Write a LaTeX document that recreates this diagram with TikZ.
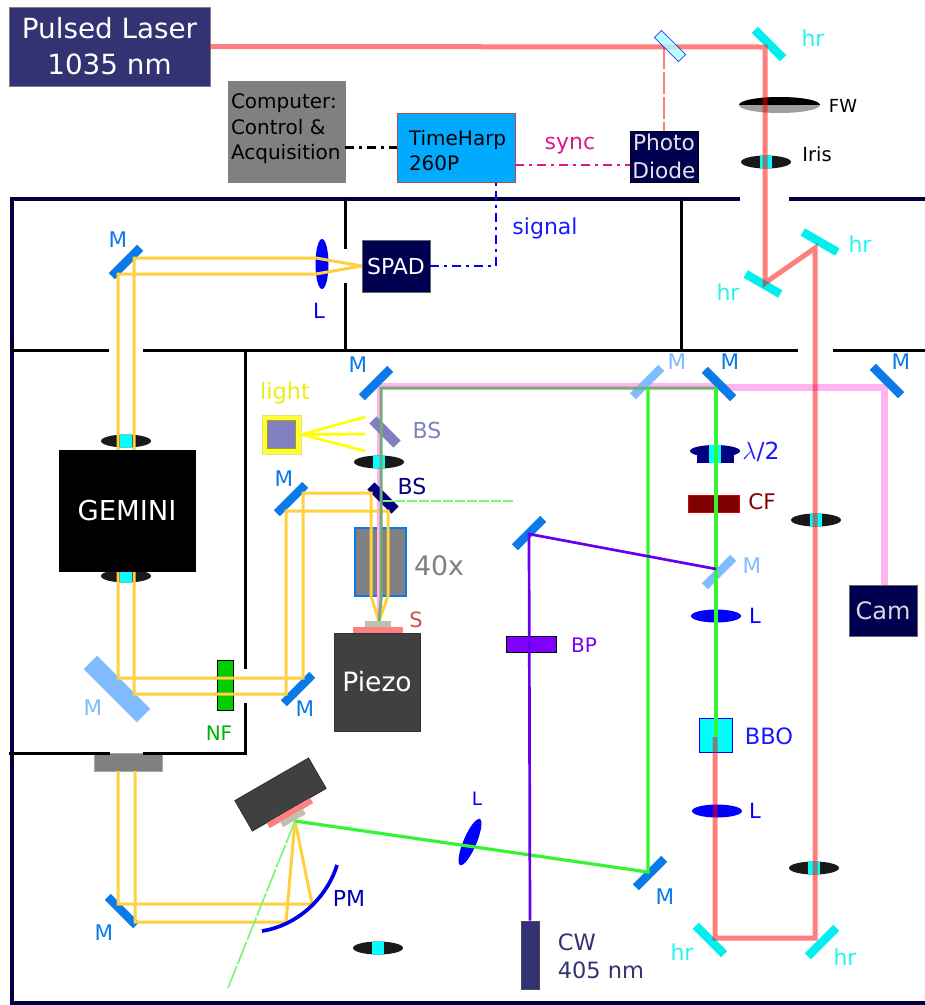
\documentclass[tikz,border=0pt]{standalone}
\usepackage{fontspec}
\setmainfont{DejaVu Sans}
\usetikzlibrary{shapes.geometric}
\definecolor{wallnavy}{HTML}{000040}
\definecolor{laserblue}{HTML}{333373}
\definecolor{boxnavy}{HTML}{000050}
\definecolor{harpblue}{HTML}{00AAFF}
\definecolor{mblue}{HTML}{0A7AE8}
\definecolor{mlight}{HTML}{80BBFF}
\definecolor{hrcyan}{HTML}{00F0F0}
\definecolor{cyn}{HTML}{00FFFF}
\definecolor{yray}{HTML}{FFD040}
\definecolor{yelo}{HTML}{FFFF00}
\definecolor{gray4}{HTML}{404040}
\definecolor{pinkbeam}{HTML}{FFB3F0}
\definecolor{greenbeam}{HTML}{33F533}
\definecolor{gstack}{HTML}{77AA77}
\definecolor{violetbeam}{HTML}{6600EE}
\definecolor{sampgray}{HTML}{C0C0B0}
\definecolor{bslight}{HTML}{8080C0}
\definecolor{syncpink}{HTML}{E0148C}
\definecolor{bpviolet}{HTML}{8000FF}
\begin{document}
\begin{tikzpicture}[x=1pt,y=-1pt,
fs/.style 2 args={font=\fontsize{#1}{#2}\selectfont},
boxn/.style={draw=gray,line width=.7pt,inner sep=0pt,align=center,minimum width=#1},
mir/.style={fill=mblue,inner sep=0pt,minimum width=40pt,minimum height=8.5pt},
mirl/.style={mir,fill=mlight},
hrm/.style={mir,fill=hrcyan},
bsm/.style={inner sep=0pt,minimum width=34pt,minimum height=10pt},
iris/.style={ellipse,fill=black!90,inner sep=0pt,minimum width=50pt,minimum height=13pt,path picture={\fill[cyn] ([xshift=-6pt,yshift=-8pt]path picture bounding box.center) rectangle ([xshift=6pt,yshift=8pt]path picture bounding box.center);}},
lens/.style={ellipse,fill=blue,inner sep=0pt,minimum width=50pt,minimum height=13pt},
lab/.style={inner sep=0pt,fs={21}{24}},
mlab/.style={lab,fs={21.5}{24},text=mblue},
llab/.style={lab,fs={21.5}{24},text=mlight},
hlab/.style={lab,fs={22}{26},text=hrcyan!85!white},
redb/.style={draw=red,opacity=.5,line width=5pt,miter limit=20},
yel/.style={draw=yray,line width=3pt},
grn/.style={draw=greenbeam,line width=3.2pt},
gdash/.style={draw=greenbeam!65!white,line width=1.7pt},
sig/.style={line width=2.2pt,dash pattern=on 9pt off 5pt on 3pt off 5pt}]
\useasboundingbox (0,0) rectangle (925,1005);
\node[fill=gray,draw=gray!70,line width=1pt,inner sep=0pt,minimum width=68pt,minimum height=18pt] (win) at (128.5,762.5) {};
% enclosure
\draw[wallnavy,line width=4.6pt] (10,199)--(740,199) (789,199)--(925,199) (12,199)--(12,1003)--(925,1003);
\draw[line width=3pt] (345,199)--(345,249) (345,283)--(345,350) (681,199)--(681,350);
\draw[line width=3pt] (10,350)--(109,350) (143,350)--(798,350) (833,350)--(925,350);
\draw[line width=3pt] (245,350)--(245,669) (245,703)--(245,753)--(143,753) (110,753)--(9,753);
% turning points of the beams
\coordinate (r1) at (765,47);\coordinate (r2) at (765,283);\coordinate (r3) at (815,248);\coordinate (r4) at (815,938);\coordinate (r5) at (715,938);\coordinate (r6) at (715,737);\coordinate (r7) at (715,572);
\coordinate (pd1) at (664,47);\coordinate (focus) at (379,621);\coordinate (gem) at (295,821);
\coordinate (ya1) at (316,258);\coordinate (ya2) at (134,258);\coordinate (ya3) at (134,694);\coordinate (ya4) at (286,694);\coordinate (ya5) at (286,511);\coordinate (ya6) at (388,511);\coordinate (ya7) at (388,596);
\coordinate (yb1) at (316,274);\coordinate (yb2) at (118,274);\coordinate (yb3) at (118,678);\coordinate (yb4) at (303,678);\coordinate (yb5) at (303,493);\coordinate (yb6) at (371,493);\coordinate (yb7) at (371,596);
\coordinate (yc1) at (118,771);\coordinate (yc2) at (118,904);\coordinate (yc3) at (312,904);
\coordinate (yd1) at (135,771);\coordinate (yd2) at (135,922);\coordinate (yd3) at (286,922);
\coordinate (p1) at (379,385);\coordinate (p2) at (719,385);\coordinate (p3) at (719,387);\coordinate (p4) at (884,387);
\coordinate (g1) at (381,388);\coordinate (g2) at (381,600);\coordinate (g3) at (716,388);\coordinate (g4) at (648,388);\coordinate (g5) at (648,872);\coordinate (g6) at (716,737);
\coordinate (gd1) at (383,501);\coordinate (gd2) at (513,501);\coordinate (gd3) at (228,988);
\coordinate (v1) at (529,534);\coordinate (v2) at (716,569);
\coordinate (pm1) at (262,931);\coordinate (pm2) at (337,865);
\coordinate (rayA) at (365,417);\coordinate (rayB) at (365,434);\coordinate (rayC) at (365,451);
\coordinate (sg1) at (496,182);\coordinate (sy1) at (515,165);\coordinate (pd2) at (664,131);
% objective, then the pink path to the camera
\node[fill=gray,draw=mblue,line width=2pt,inner sep=0pt,minimum width=51pt,minimum height=68pt] (obj) at (380.5,562) {};
\node[boxn=68pt,minimum height=51pt,draw=black!60,fill=boxnavy,text=white!85!black,fs={24}{28}] (cam) at (883,610.5) {Cam};
\draw[pinkbeam,line width=4pt] (p1)--(p2);
\draw[pinkbeam,line width=4pt] (p1)--(focus);
\draw[pinkbeam,line width=7pt] (p3)--(p4)--(cam.north -| p4);
% mirrors
\node[hrm,rotate=-45] (hr1) at (769,44) {};
\node[hrm,rotate=-30] (hr2) at (763,284) {};
\node[hrm,rotate=-30] (hr3) at (820,242) {};
\node[hrm,rotate=-45] (hr4) at (710,940) {};
\node[hrm,rotate=45] (hr5) at (822,942) {};
\node[mir,rotate=45] (m1) at (126,262) {};
\node[mir,rotate=45] (m2) at (376,383) {};
\node[mir,rotate=45] (m3) at (291,499) {};
\node[mirl,rotate=45] (m4) at (647,382) {};
\node[mir,rotate=-45] (m5) at (719,384) {};
\node[mir,rotate=-45] (m6) at (887,381) {};
\node[mirl,rotate=45] (m7) at (719,572) {};
\node[mir,rotate=45] (m8) at (529,533) {};
\node[mirl,rotate=-45,minimum width=75pt,minimum height=19pt] (m9) at (117,689) {};
\node[mir,rotate=45] (m10) at (298,689) {};
\node[mir,rotate=-45] (m11) at (122,911) {};
\node[mir,rotate=45] (m12) at (650,873) {};
\node[bsm,rotate=-45,fill=bslight] (bs1) at (385,432) {};
\node[bsm,rotate=-45,fill=blue!50!black] (bs2) at (383,498) {};
% irises, lenses and filters
\node[ellipse,fill=gray!75,inner sep=0pt,minimum width=81pt,minimum height=16pt,path picture={\fill[black] (path picture bounding box.north west) rectangle (path picture bounding box.east);}] (fw) at (779.5,105) {};
\node[iris] (ir1) at (766,162) {};
\node[iris] (ir2) at (816,520) {};
\node[iris] (ir3) at (814,868) {};
\node[iris] (ir4) at (378,948) {};
\node[iris] (ir5) at (379,462) {};
\node[iris] (ir6) at (126,441) {};
\node[iris] (ir7) at (126,576) {};
\node[lens,rotate=90] (l1) at (322,264) {};
\node[lens] (l2) at (716,616) {};
\node[lens] (l3) at (717,811) {};
\node[lens,rotate=67] (l4) at (470,842) {};
\fill[blue!50!black] (715,451) ellipse [x radius=25pt,y radius=6pt];
\fill[blue!50!black] (696.5,451) rectangle (733.5,463);
\node[fill=cyn,inner sep=0pt,minimum width=12pt,minimum height=18pt] (wp) at (715,454) {};
\node[fill=red!50!black,draw=red!85!black,line width=.8pt,inner sep=0pt,minimum width=51pt,minimum height=17pt] (cf) at (714,504) {};
\node[fill=cyn,draw=blue,line width=1pt,inner sep=0pt,minimum width=33pt,minimum height=34pt] (bbo) at (716,735.5) {};
\node[fill=green!80!black,draw=black,line width=1pt,inner sep=0pt,minimum width=16pt,minimum height=50pt] (nf) at (225.5,685.5) {};
\node[fill=bpviolet,draw=black,line width=1pt,inner sep=0pt,minimum width=50pt,minimum height=16pt] (bp) at (531.5,644.5) {};
% boxes that beams start from
\node[boxn=201pt,minimum height=79pt,fill=laserblue,text=white,fs={27.8}{36}] (laser) at (109.5,46.5) {Pulsed Laser\\1035 nm};
\node[boxn=68pt,minimum height=52pt,draw=black!60,fill=boxnavy,text=white,fs={22}{26}] (spad) at (396,266) {SPAD};
\node[boxn=68pt,minimum height=51pt,draw=black,fill=boxnavy,text=white!90!black,fs={21.7}{28}] (pd) at (664,156.5) {Photo\\Diode};
\node[boxn=117pt,minimum height=101pt,fill=gray,text=black,fs={20}{25.5},align=left,text width=111pt] (comp) at (286.5,131.5) {Computer:\\Control \&\\Acquisition\par\vspace{5pt}};
\node[boxn=118pt,minimum height=69pt,draw=red!40!gray,fill=harpblue,text=black,fs={20}{25},align=left,text width=94pt] (harp) at (456,147.5) {\rule{0pt}{22pt}TimeHarp\\260P};
\node[fill=gray4,draw=black!80,line width=1pt,inner sep=0pt,minimum width=85pt,minimum height=35pt,rotate=30] (mount) at (280.5,794.5) {};
\node[fill=red!50,inner sep=0pt,minimum width=50pt,minimum height=6pt,rotate=30] (holder) at (290,813) {};
\node[fill=sampgray,inner sep=0pt,minimum width=26pt,minimum height=6pt,rotate=30] (samp) at (293,818) {};
\node[fill=yelo!80,draw=yelo!60!gray!60,inner sep=0pt,minimum size=39pt] (lamp) at (282,434.5) {};
\node[fill=bslight,draw=yelo!60!black!90,line width=.7pt,inner sep=0pt,minimum size=28pt] (bulb) at (281.5,434) {};
% beams
\draw[pinkbeam!60!red!70,line width=2pt] (r6)--(r7);
\draw[redb] (laser.east) -- (r1) -- (r2) -- (r3) -- (r4) -- (r5) -- (r6);
\draw[redb,line width=2.5pt,dash pattern=on 22pt off 3pt] (pd1)--(pd2);
\node[bsm,rotate=-45,fill=cyn!35,draw=blue,line width=.7pt,opacity=.8] (bs0) at (670,46) {};
\draw[yel,line join=miter] (spad.west)--(ya1)--(ya2)--(ya3)--(ya4)--(ya5)--(ya6)--(ya7)--(focus);
\draw[yel,line join=miter] (spad.west)--(yb1)--(yb2)--(yb3)--(yb4)--(yb5)--(yb6)--(yb7)--(focus);
\draw[yel] (yc1)--(yc2)--(yc3)--(gem);
\draw[yel] (yd1)--(yd2)--(yd3)--(gem);
\draw[gstack,line width=3pt] (g3)--(g1)--(g2)--(focus);
\draw[grn] (g3)--(g6);
\draw[grn] (g4)--(g5)--(gem);
\draw[gdash,dash pattern=on 10pt off 2pt] (gd1)--(gd2);
\draw[gdash,dash pattern=on 24pt off 2pt] (gem)--(gd3);
\node[boxn=18pt,minimum height=68pt,draw=black!70,fill=laserblue] (cw) at (530,955) {};
\draw[violetbeam,line width=2.7pt] (cw.north)--(v1)--(v2);
\draw[yelo,line width=2.7pt] (rayA)--(lamp.east)--(rayC) (lamp.east)--(rayB);
\draw[blue!90!black,line width=3.7pt] (pm1) .. controls (300,925) and (328,895) .. (pm2);
% signal lines
\draw[sig] (harp.west -| comp.east)--(harp.west);
\draw[sig,syncpink] (sy1)--(sy1 -| pd.west);
\draw[sig,blue] (spad.east) -| (sg1);
% boxes in front
\node[boxn=136pt,minimum height=121pt,draw=black,fill=black,text=white,fs={27.4}{32}] (gemini) at (127,510.5) {GEMINI};
\node[boxn=86pt,minimum height=98pt,draw=black!80,line width=1pt,fill=gray4,text=white,fs={26.6}{32}] (piezo) at (377,682) {Piezo};
\node[fill=red!50,inner sep=0pt,minimum width=50pt,minimum height=6pt] (stage) at (378,630) {};
\node[fill=sampgray,inner sep=0pt,minimum width=26pt,minimum height=6pt] (chip) at (378,624) {};
% labels
\node[lab,fs={22}{26},text=syncpink] (lsync) at (570,146) {sync};
\node[lab,fs={22}{26},text=blue!90!white] (lsig) at (545,228) {signal};
\node[lab,fs={18}{20},text=black] (lfw) at (843,106) {FW};
\node[lab,fs={19.5}{22},text=black] (lir) at (817,154) {Iris};
\node[hlab] (lh1) at (813,38) {hr};
\node[hlab] (lh2) at (860,244) {hr};
\node[hlab] (lh3) at (728,292) {hr};
\node[hlab] (lh4) at (682,952) {hr};
\node[hlab] (lh5) at (845,957) {hr};
\node[mlab] (lm1) at (118,240) {M};
\node[mlab] (lm2) at (358,365) {M};
\node[mlab] (lm3) at (284,479) {M};
\node[llab] (lm4) at (677,362) {M};
\node[mlab] (lm5) at (730,362) {M};
\node[mlab] (lm6) at (901,362) {M};
\node[llab] (lm7) at (752,566) {M};
\node[llab] (lm9) at (93,708) {M};
\node[mlab] (lm10) at (305,709) {M};
\node[mlab] (lm11) at (104,933) {M};
\node[mlab] (lm12) at (665,897) {M};
\node[lab,text=blue] (ll1) at (319,311) {L};
\node[lab,text=blue] (ll2) at (755,616) {L};
\node[lab,text=blue] (ll3) at (755,811) {L};
\node[lab,fs={18.5}{20},text=blue] (ll4) at (477,799) {L};
\node[lab,fs={23.5}{26},text=blue!90!white] (lwp) at (761,452) {$\lambda$/2};
\node[lab,fs={21.5}{26},text=red!50!black] (lcf) at (762,502) {CF};
\node[lab,fs={22.5}{26},text=blue!90!white] (lbbo) at (769,736) {BBO};
\node[lab,fs={20}{22},text=violetbeam!85!magenta] (lbp) at (584,645) {BP};
\node[lab,fs={22.5}{28},align=left,text=laserblue] (lcw) at (601,956) {CW\\405 nm};
\node[lab,fs={22}{24},text=blue!70!black] (lpm) at (349,898) {PM};
\node[lab,fs={20}{22},text=green!70!black] (lnf) at (219,733) {NF};
\node[lab,fs={21}{24},text=red!50!gray!90] (ls) at (416,620) {S};
\node[lab,fs={26.8}{32},text=gray] (l40) at (439,566) {40x};
\node[lab,fs={22}{24},text=bslight] (lbs1) at (427,430) {BS};
\node[lab,fs={22}{24},text=blue!50!black] (lbs2) at (412,486) {BS};
\node[lab,fs={22.5}{26},text=yelo!85!gray] (llight) at (285,393) {light};
\end{tikzpicture}
\end{document}
